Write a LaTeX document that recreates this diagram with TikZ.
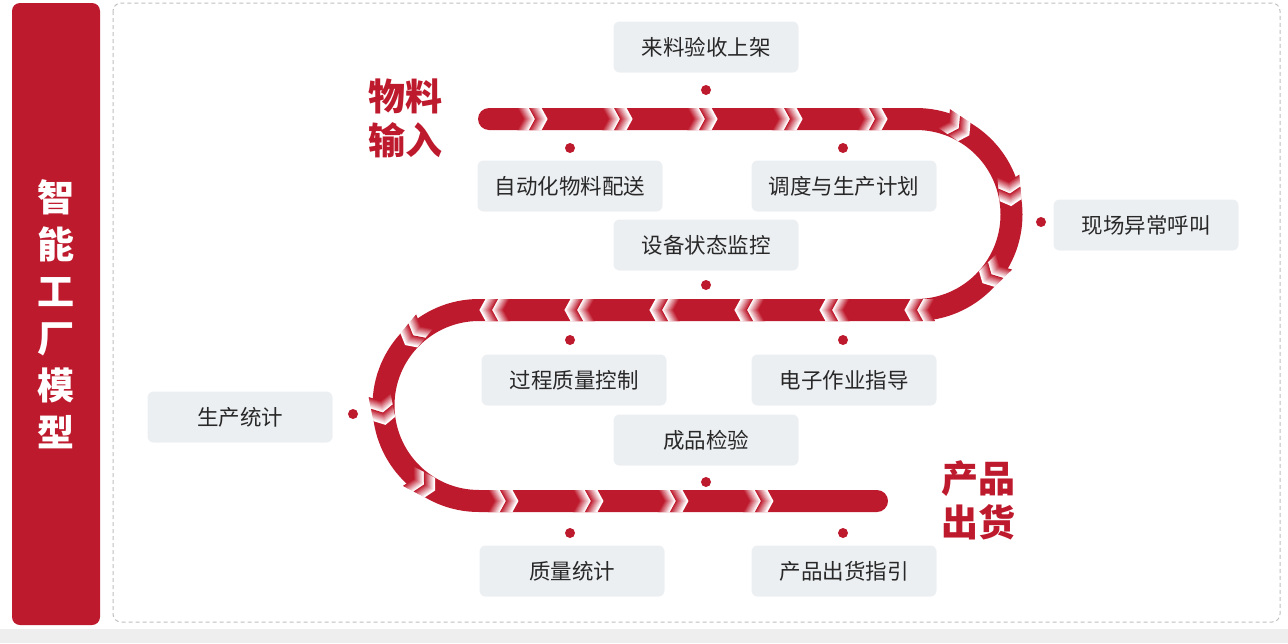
\documentclass[tikz,border=0pt]{standalone}
\usepackage{fontspec}
\setmainfont{Noto Sans CJK SC}
\usepackage{tikz}
\usepackage{xcolor}
\usetikzlibrary{decorations.markings}

\definecolor{trackred}{RGB}{190,26,45}
\definecolor{boxgray}{RGB}{236,239,242}
\definecolor{textgray}{RGB}{40,40,40}
\definecolor{stripgray}{RGB}{238,238,238}

% one fading chevron group, drawn in the local frame of the track
\newcommand{\trackmark}{%
  \foreach \p in {-30,-18}{
    \foreach \k in {0,...,11}{
      \pgfmathsetmacro{\shade}{100-\k*100/11}
      \fill[trackred!\shade!white] ({\p+\k},-11) -- ({\p+\k+1.6},-11) -- ({\p+\k+7.6},0)
        -- ({\p+\k+1.6},11) -- ({\p+\k},11) -- ({\p+\k+6},0) -- cycle;
    }
  }
}

\begin{document}
\begin{tikzpicture}[x=1pt, y=-1pt,
    stagebox/.style={fill=boxgray, rounded corners=6, minimum width=185, minimum height=51,
      text=textgray, font=\fontsize{21.5}{26}\selectfont},
    dot/.style={circle, fill=trackred, inner sep=0, minimum size=10},
    bigred/.style={text=trackred, align=center, font=\fontsize{37}{44}\selectfont\bfseries},
    track/.style={line width=22, trackred, line cap=round}]
    \useasboundingbox (0,0) rectangle (1288,643);
    \fill[stripgray] (0,629) rectangle (1288,643);

    \node[fill=trackred, rounded corners=8, minimum width=88, minimum height=622] (bar) at (56,314) {};
    \node[text=white, align=center, font=\fontsize{37}{47}\selectfont\bfseries] (title) at (bar.center)
        {智\\能\\工\\厂\\模\\型};
    \draw[gray!50, line width=1, dash pattern=on 4pt off 3pt, rounded corners=8] (113,3) rectangle (1280,622);

    % the winding track
    \draw[track] (489,119) -- (916,119) arc[start angle=-90, end angle=90, radius=95.5]
        -- (479,310) arc[start angle=-90, end angle=-270, radius=95.5] -- (877,501);
    \path[decorate, decoration={markings, mark=between positions 58pt and 1840pt step 85pt with {\trackmark}}]
        (489,119) -- (916,119) arc[start angle=-90, end angle=90, radius=95.5]
        -- (479,310) arc[start angle=-90, end angle=-270, radius=95.5] -- (877,501);

    \node[bigred] (input) at (405,118) {物料\\输入};
    \node[bigred] (output) at (978,500) {产品\\出货};

    \node[stagebox] (receive) at (706,47) {来料验收上架};
    \node[stagebox] (deliver) at (570,186) {自动化物料配送};
    \node[stagebox] (plan) at (844,186) {调度与生产计划};
    \node[stagebox] (call) at (1146,225) {现场异常呼叫};
    \node[stagebox] (monitor) at (706,245) {设备状态监控};
    \node[stagebox] (process) at (574,380) {过程质量控制};
    \node[stagebox] (guide) at (844,380) {电子作业指导};
    \node[stagebox] (stats) at (240,417) {生产统计};
    \node[stagebox] (inspect) at (706,440) {成品检验};
    \node[stagebox] (quality) at (572,571) {质量统计};
    \node[stagebox] (ship) at (844,571) {产品出货指引};

    \node[dot] (d1) at (706,90) {};
    \node[dot] (d2) at (570,148) {};
    \node[dot] (d3) at (843,148) {};
    \node[dot] (d4) at (1041,222) {};
    \node[dot] (d5) at (706,285) {};
    \node[dot] (d6) at (570,340) {};
    \node[dot] (d7) at (843,340) {};
    \node[dot] (d8) at (353,414) {};
    \node[dot] (d9) at (706,482) {};
    \node[dot] (d10) at (570,533) {};
    \node[dot] (d11) at (843,533) {};
\end{tikzpicture}
\end{document}
